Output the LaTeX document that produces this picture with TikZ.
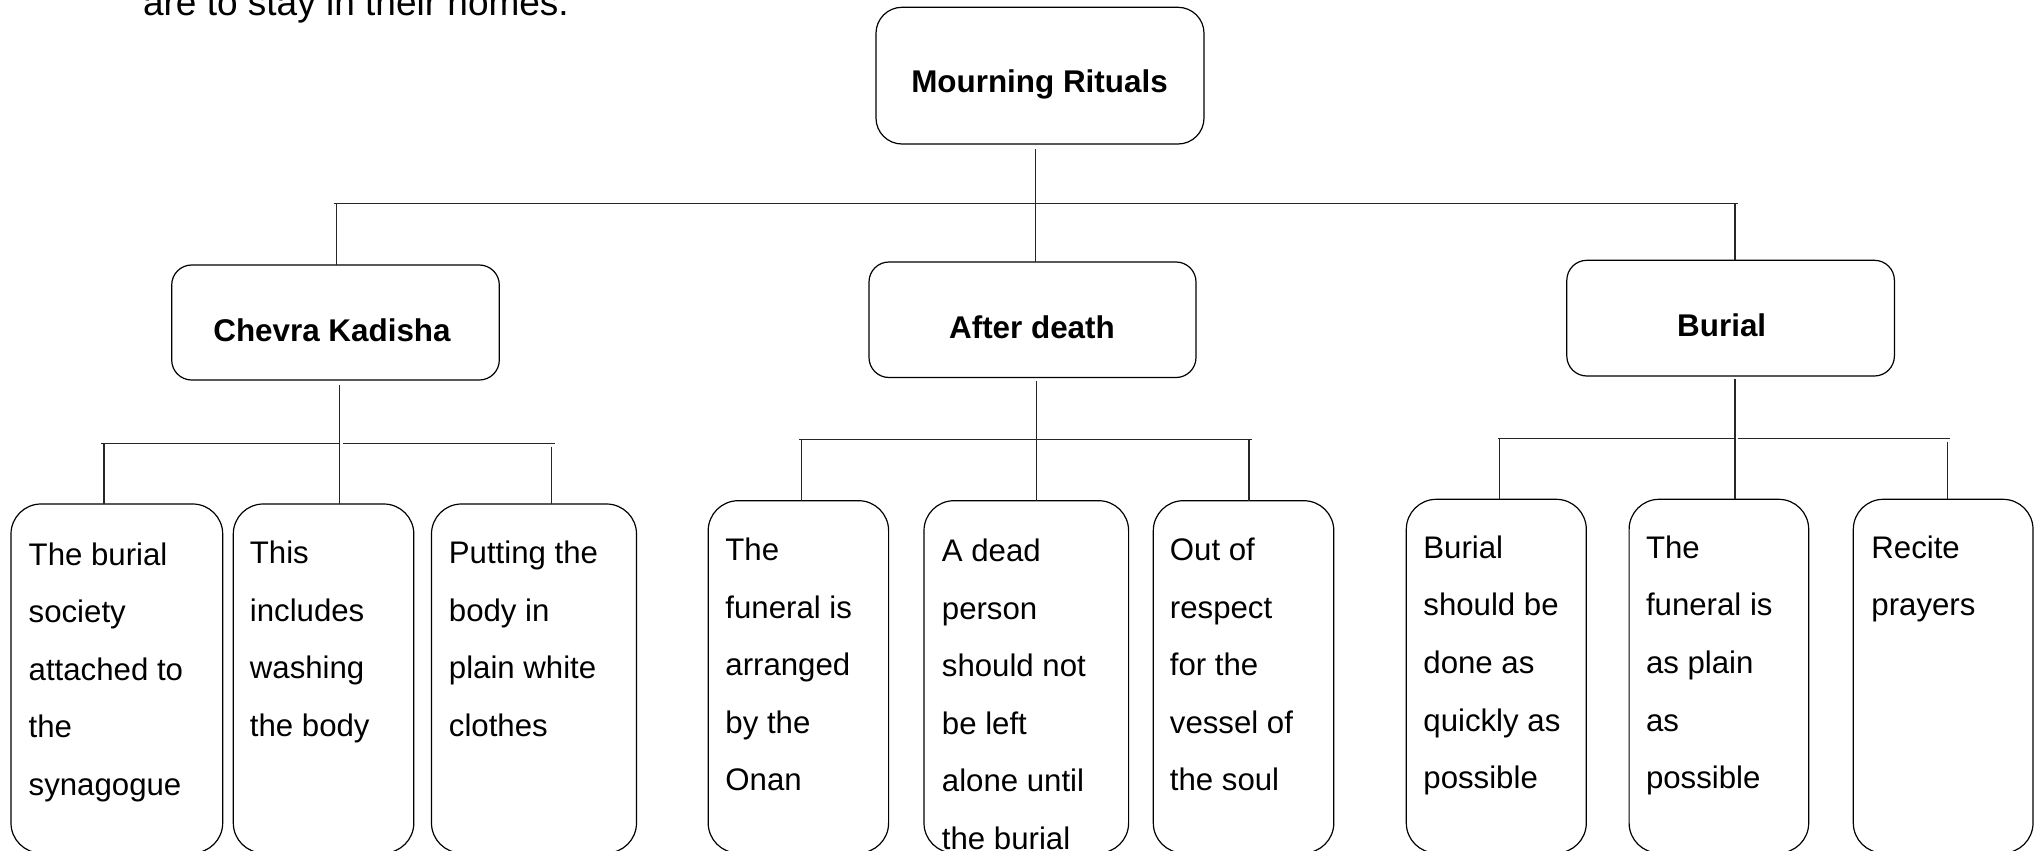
\documentclass[tikz,border=0pt]{standalone}
\usepackage{fontspec}
\setmainfont{Liberation Sans}
% stacked lines of a leaf box, baseline on the first line
\newcommand\leaflines[1]{\begin{tabular}[t]{@{}l@{}}#1\end{tabular}}
\begin{document}
\begin{tikzpicture}[x=0.5pt,y=-0.5pt,
  frame/.style={draw=black, line width=0.6pt, rectangle, inner sep=0pt, outer sep=0pt, anchor=north west},
  rootbox/.style={frame, rounded corners=13pt},
  headbox/.style={frame, rounded corners=10pt},
  leafbox/.style={frame, rounded corners=15pt},
  boxdim/.style 2 args={minimum width=#1*0.5pt, minimum height=#2*0.5pt},
  wire/.style={draw=black!85, line width=0.6pt},
  headtext/.style={anchor=base, inner sep=0pt, font=\fontsize{15.7pt}{18pt}\selectfont\bfseries},
  leaftext/.style={anchor=base west, inner sep=0pt, font=\fontsize{15.6pt}{28.8pt}\selectfont},
  introtext/.style={anchor=base west, inner sep=0pt, font=\fontsize{18.5pt}{22pt}\selectfont}]
\useasboundingbox (0,0) rectangle (2034,851);
\clip (0,0) rectangle (2034,851);

% closing words of the paragraph above the chart
\node[introtext] (intro) at (142.7,15) {are to stay in their homes.};

% root and the three headings
\node[rootbox, boxdim={328}{136.7}] (root) at (876,7.3) {};
\node[headbox, boxdim={327.6}{115}] (chevra) at (171.7,265) {};
\node[headbox, boxdim={327}{115.5}] (after) at (869,262) {};
\node[headbox, boxdim={327.6}{115.7}] (burial) at (1566.8,260.3) {};

\node[headtext] (rootlbl) at (1039.5,92.7) {Mourning Rituals};
\node[headtext] (chevralbl) at (332,341.7) {Chevra Kadisha};
\node[headtext] (afterlbl) at (1032,338) {After death};
\node[headtext] (buriallbl) at (1721.7,336) {Burial};

% leaf boxes
\node[leafbox, boxdim={211.7}{349}] (g) at (11,504) {};
\node[leafbox, boxdim={180.5}{349}] (h) at (233.3,504) {};
\node[leafbox, boxdim={205}{349}] (i) at (431.5,504) {};
\node[leafbox, boxdim={180.4}{352.3}] (d) at (708.2,500.7) {};
\node[leafbox, boxdim={204.6}{352.3}] (e) at (924,500.7) {};
\node[leafbox, boxdim={180.5}{352.3}] (f) at (1153.3,500.7) {};
\node[leafbox, boxdim={180}{353.7}] (a) at (1406.3,499.3) {};
\node[leafbox, boxdim={179.6}{353.7}] (b) at (1629.1,499.3) {};
\node[leafbox, boxdim={179.7}{353.7}] (c) at (1853.3,499.3) {};

\node[leaftext] (gtxt) at (28.3,565) {\leaflines{The burial\\society\\attached to\\the\\synagogue}};
\node[leaftext] (htxt) at (249.5,563.5) {\leaflines{This\\includes\\washing\\the body}};
\node[leaftext] (itxt) at (448.5,563.5) {\leaflines{Putting the\\body in\\plain white\\clothes}};
\node[leaftext] (dtxt) at (725,560.5) {\leaflines{The\\funeral is\\arranged\\by the\\Onan}};
\node[leaftext] (etxt) at (941.5,561.5) {\leaflines{A dead\\person\\should not\\be left\\alone until\\the burial}};
\node[leaftext] (ftxt) at (1169.5,560.5) {\leaflines{Out of\\respect\\for the\\vessel of\\the soul}};
\node[leaftext] (atxt) at (1423,558.3) {\leaflines{Burial\\should be\\done as\\quickly as\\possible}};
\node[leaftext] (btxt) at (1645.6,558.3) {\leaflines{The\\funeral is\\as plain\\as\\possible}};
\node[leaftext] (ctxt) at (1871,558.3) {\leaflines{Recite\\prayers}};

% top level: trunk, bus and drops
\coordinate (trunk) at (1035.7,149);
\draw[wire] (trunk) -- (trunk |- after.north);
\coordinate (busL) at (333.7,203.5);
\coordinate (busR) at (1737.7,203.5);
\draw[wire] (busL) -- (busR);
\coordinate (dChevra) at (336.8,203.5);
\draw[wire] (dChevra) -- (dChevra |- chevra.north);
\coordinate (dBurial) at (1735,203.5);
\draw[wire] (dBurial) -- (dBurial |- burial.north);

% Chevra Kadisha branch
\coordinate (cStem) at (339.4,384.7);
\draw[wire] (cStem) -- (cStem |- h.north);
\coordinate (cBusL) at (101.2,443.3);
\coordinate (cBusM1) at (338.7,443.3);
\coordinate (cBusM2) at (342.5,443.3);
\coordinate (cBusR) at (554.5,443.3);
\draw[wire] (cBusL) -- (cBusM1);
\draw[wire] (cBusM2) -- (cBusR);
\coordinate (cG) at (104,443.3);
\draw[wire] (cG) -- (cG |- g.north);
\coordinate (cI) at (551.5,446.7);
\draw[wire] (cI) -- (cI |- i.north);

% After death branch
\coordinate (aStem) at (1036.7,380.5);
\draw[wire] (aStem) -- (aStem |- e.north);
\coordinate (aBusL) at (799,439.7);
\coordinate (aBusR) at (1251.8,439.7);
\draw[wire] (aBusL) -- (aBusR);
\coordinate (aD) at (801.5,439.7);
\draw[wire] (aD) -- (aD |- d.north);
\coordinate (aF) at (1249,439.7);
\draw[wire] (aF) -- (aF |- f.north);

% Burial branch
\coordinate (bStem) at (1735,379.3);
\draw[wire] (bStem) -- (bStem |- b.north);
\coordinate (bBusL) at (1498.3,438.3);
\coordinate (bBusM1) at (1735,438.3);
\coordinate (bBusM2) at (1737.7,438.3);
\coordinate (bBusR) at (1949.6,438.3);
\draw[wire] (bBusL) -- (bBusM1);
\draw[wire] (bBusM2) -- (bBusR);
\coordinate (bA) at (1499.7,438.3);
\draw[wire] (bA) -- (bA |- a.north);
\coordinate (bC) at (1947.2,442);
\draw[wire] (bC) -- (bC |- c.north);
\end{tikzpicture}
\end{document}
